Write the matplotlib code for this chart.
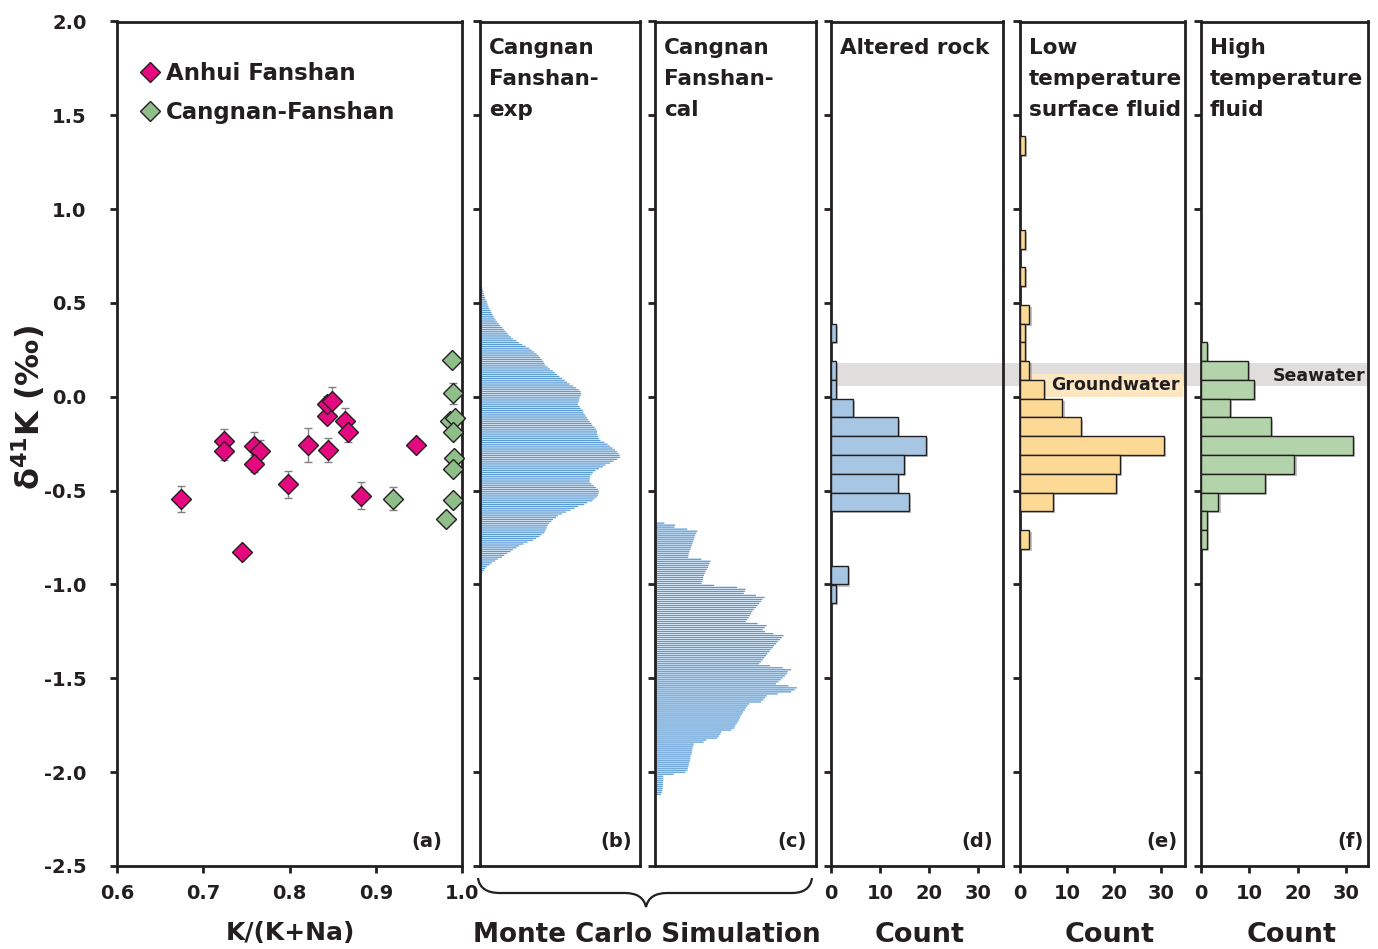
import numpy as np
import matplotlib
matplotlib.use('Agg')
import matplotlib.pyplot as plt
import matplotlib.patheffects as pe
from matplotlib.patches import Rectangle, PathPatch
from matplotlib.path import Path

plt.rcParams['font.family'] = 'DejaVu Sans'
plt.rcParams['font.weight'] = 'bold'
plt.rcParams['axes.unicode_minus'] = False
plt.rcParams['mathtext.default'] = 'bf'

# ---- (a) K/(K+Na) vs d41K ----
anhui_x = [0.674, 0.724, 0.724, 0.759, 0.766, 0.759, 0.745, 0.798, 0.822,
           0.845, 0.843, 0.844, 0.849, 0.864, 0.868, 0.883, 0.947]
anhui_y = [-0.544, -0.235, -0.286, -0.260, -0.288, -0.357, -0.826, -0.467, -0.257,
           -0.281, -0.101, -0.037, -0.020, -0.130, -0.190, -0.526, -0.256]
anhui_err = [0.069, 0.064, 0.05, 0.07, 0.06, 0.046, 0.0, 0.073, 0.09,
             0.064, 0.03, 0.04, 0.071, 0.068, 0.053, 0.072, 0.0]

cangnan_x = [0.920, 0.988, 0.990, 0.986, 0.992, 0.990, 0.991, 0.990, 0.990, 0.981]
cangnan_y = [-0.542, 0.197, 0.018, -0.130, -0.114, -0.185, -0.324, -0.382, -0.549, -0.649]
cangnan_err = [0.059, 0.03, 0.055, 0.03, 0.03, 0.03, 0.03, 0.03, 0.03, 0.0]

# ---- (b) Monte Carlo, Cangnan Fanshan-exp (0.01 bins, top -> bottom) ----
b_top, b_bottom = 0.63, -0.965
b_freq = [0.5, 0.7, 1.0, 1.3, 1.7, 2.3, 2.7, 3.3, 3.8, 4.3,
          5.0, 5.5, 6.7, 7.2, 7.7, 8.5, 9.2, 10.5, 11.2, 12.3,
          13.2, 14.3, 15.5, 17.0, 18.5, 20.0, 22.0, 23.5, 25.0, 27.0,
          28.5, 30.5, 32.5, 36.0, 38.5, 41.7, 45.0, 48.5, 51.0, 53.5,
          56.0, 58.0, 59.3, 61.0, 62.5, 63.5, 64.5, 67.0, 69.0, 72.0,
          74.0, 76.0, 78.5, 81.0, 83.5, 86.0, 88.5, 92.0, 95.0, 97.5,
          99.3, 100.0, 99.5, 98.5, 98.0, 97.7, 97.0, 96.7, 98.5, 99.5,
          101.5, 102.0, 103.3, 104.5, 105.7, 107.0, 108.3, 110.0, 111.0, 113.0,
          114.5, 115.7, 115.5, 116.0, 116.7, 117.5, 119.0, 123.0, 126.0, 128.3,
          131.0, 133.3, 135.5, 137.0, 138.0, 138.3, 135.5, 132.0, 128.5, 124.0,
          121.5, 117.5, 114.0, 111.5, 110.0, 108.7, 108.5, 108.3, 108.3, 110.0,
          112.5, 114.5, 116.7, 117.3, 117.3, 116.5, 115.5, 113.0, 111.0, 106.0,
          103.0, 97.0, 93.5, 89.5, 85.0, 81.0, 77.0, 75.0, 72.0, 70.5,
          68.3, 67.0, 66.0, 65.5, 64.5, 63.5, 61.0, 58.5, 55.5, 52.5,
          47.0, 43.0, 38.5, 36.0, 32.5, 30.0, 27.0, 24.0, 21.7, 17.5,
          15.0, 11.5, 9.5, 6.7, 5.0, 3.8, 2.5, 1.5, 0.8, 0.3]

# ---- (c) Monte Carlo, Cangnan Fanshan-cal ----
c_top, c_bottom = -0.673, -2.118
c_freq = [9.3, 20, 19.3, 32, 42, 41, 40, 39.3, 38.7, 38, 37.3, 36.7, 36, 35.3,
          34.3, 33.7, 33.3, 33,
          46, 55.3, 54.3, 53.3, 52.7, 51.7, 50.3, 49.7, 48.7, 48, 47.7, 47, 46.3,
          58.7, 81.7, 90, 89.3, 88.3, 100.3, 109, 106.7, 105.3, 103.7,
          102, 100.3, 98.3, 96.7, 95.3, 94.3, 93, 91.7, 90.3, 102,
          111, 109.3, 107, 109.3, 117.7, 127.7, 126, 124.3, 122, 120.3,
          118.3, 117, 115, 113.7, 111.7, 110.3, 108.7, 107, 105.3, 103.7,
          114.3, 127, 135.3, 132, 131, 129.3, 127, 125, 122.7, 120.3,
          132.7, 141, 138.7, 135.3, 122, 111, 109.3, 107.7, 105.3, 93.7,
          92, 90.3, 89.3, 87.7, 86.7, 85.3, 84.3, 83.3, 82.3, 81,
          79.7, 78.7, 76, 66, 65, 63.7, 62, 51, 48.3, 38.7,
          38, 37.3, 37, 36.7, 36.3, 35.3, 35, 34.7, 34.3, 33.7,
          33.3, 32.7, 32.3, 30.3, 18.7, 8.3, 8.3, 8.3, 8, 8,
          7.7, 7.7, 7.3, 6.7, 6]

# ---- (d)-(f) histograms, 0.1 bins ----
d_bins = [0.34, 0.14, 0.04, -0.06, -0.16, -0.26, -0.36, -0.46, -0.56, -0.95, -1.05]
d_count = [1, 1, 1, 4.5, 13.6, 19.3, 14.8, 13.6, 15.9, 3.4, 1]

e_bins = [1.34, 0.84, 0.64, 0.44, 0.34, 0.24, 0.14, 0.04, -0.06, -0.16,
          -0.26, -0.36, -0.46, -0.56, -0.76]
e_count = [1, 1, 1, 2, 1, 1, 2, 5, 9, 13, 30.5, 21.3, 20.4, 7, 2]

f_bins = [0.24, 0.14, 0.04, -0.06, -0.16, -0.26, -0.36, -0.46, -0.56, -0.66, -0.76]
f_count = [1.3, 9.7, 10.9, 6, 14.4, 31.3, 19.3, 13.3, 3.6, 1.3, 1.3]

seawater = (0.06, 0.18)
groundwater = (0.0, 0.12)

INK = '#231f20'
W, H = 1378, 949
fig = plt.figure(figsize=(W / 100, H / 100), dpi=100)


def px_axes(x0, x1, y0=21.5, y1=866):
    return fig.add_axes([x0 / W, 1 - y1 / H, (x1 - x0) / W, (y1 - y0) / H])


def style(ax, ylabels=False):
    ax.set_ylim(-2.5, 2.0)
    ax.set_yticks(np.arange(-2.5, 2.01, 0.5))
    for s in ax.spines.values():
        s.set_linewidth(2.0)
        s.set_color(INK)
    ax.tick_params(direction='out', length=5, width=2, color=INK,
                   labelsize=14, labelcolor=INK)
    ax.tick_params(axis='y', pad=17, labelleft=ylabels)
    ax.tick_params(axis='x', pad=8)


def corner(ax, txt, dx):
    ax.annotate(txt, xy=(1, 0), xycoords='axes fraction', xytext=(-dx, 15),
                textcoords='offset pixels', ha='right', va='bottom',
                fontsize=14, color=INK, zorder=6)


def title(ax, txt):
    ax.annotate(txt, xy=(0, 1), xycoords='axes fraction', xytext=(9, -16),
                textcoords='offset pixels', ha='left', va='top',
                fontsize=15.5, color=INK, linespacing=1.7, zorder=6)


ax_a = px_axes(117, 462)
ax_b = px_axes(480, 640)
ax_c = px_axes(655, 816)
ax_d = px_axes(831, 1003)
ax_e = px_axes(1020, 1185)
ax_f = px_axes(1201, 1368)

# (a)
style(ax_a, ylabels=True)
ax_a.set_xlim(0.6, 1.0)
ax_a.set_xticks([0.6, 0.7, 0.8, 0.9, 1.0])
ax_a.set_xticklabels(['0.6', '0.7', '0.8', '0.9', '1.0'])
ax_a.set_yticklabels([f'{v:.1f}' for v in np.arange(-2.5, 2.01, 0.5)])
ax_a.errorbar(anhui_x, anhui_y, yerr=anhui_err, fmt='none', ecolor='#808080',
              elinewidth=1, capsize=3, capthick=1, zorder=2)
ax_a.errorbar(cangnan_x, cangnan_y, yerr=cangnan_err, fmt='none', ecolor='#808080',
              elinewidth=1, capsize=3, capthick=1, zorder=2)
ax_a.plot(anhui_x, anhui_y, 'D', ms=9.7, mfc='#e5097f', mec=INK, mew=1,
          label='Anhui Fanshan', zorder=3, clip_on=False)
ax_a.plot(cangnan_x, cangnan_y, 'D', ms=9.7, mfc='#8fbf88', mec=INK, mew=1,
          label='Cangnan-Fanshan', zorder=3, clip_on=False)
ax_a.legend(loc='upper left', bbox_to_anchor=(0.04, 0.963), frameon=False,
            fontsize=16.5, handletextpad=0.25, labelspacing=0.72,
            borderaxespad=0, handlelength=0.9, labelcolor=INK)
corner(ax_a, '(a)', 20)

# (b), (c) Monte Carlo
for ax, top, bot, freq, xmax, lab, dx, ttl in [
        (ax_b, b_top, b_bottom, b_freq, 158, '(b)', 8, 'Cangnan\nFanshan-\nexp'),
        (ax_c, c_top, c_bottom, c_freq, 160, '(c)', 9, 'Cangnan\nFanshan-\ncal')]:
    style(ax)
    ys = np.linspace(top, bot, len(freq))
    step = abs(ys[1] - ys[0])
    bars = ax.barh(ys, freq, height=step * 0.65, color='#5b9bd5', linewidth=0, zorder=2)
    for r in bars:
        r.set_snap(False)
    ax.set_xlim(0, xmax)
    ax.set_xticks([])
    title(ax, ttl)
    corner(ax, lab, dx)

# (d)-(f) histograms
shadow = [pe.SimplePatchShadow(offset=(1.5, -1.5), shadow_rgbFace='#9a9a9a', alpha=0.6),
          pe.Normal()]
for ax, bins, cnt, col, xmax, lab, dx, ttl in [
        (ax_d, d_bins, d_count, '#a7c6e4', 35, '(d)', 10, 'Altered rock'),
        (ax_e, e_bins, e_count, '#fcd994', 35, '(e)', 7, 'Low\ntemperature\nsurface fluid'),
        (ax_f, f_bins, f_count, '#b3d3aa', 34.5, '(f)', 4, 'High\ntemperature\nfluid')]:
    style(ax)
    ax.set_facecolor('none')
    bars = ax.barh(bins, cnt, height=0.1, color=col, edgecolor=INK, linewidth=1, zorder=3)
    for r in bars:
        r.set_path_effects(shadow)
    ax.set_xlim(0, xmax)
    ax.set_xticks([0, 10, 20, 30])
    title(ax, ttl)
    corner(ax, lab, dx)

# seawater band across d-f
inv = fig.transFigure.inverted()
x0 = inv.transform(ax_d.transAxes.transform((0, 0)))[0]
x1 = inv.transform(ax_f.transAxes.transform((1, 0)))[0]
yb = inv.transform(ax_d.transData.transform((0, seawater[0])))[1]
yt = inv.transform(ax_d.transData.transform((0, seawater[1])))[1]
fig.patches.append(Rectangle((x0, yb), x1 - x0, yt - yb, transform=fig.transFigure,
                             facecolor='#dfdedd', edgecolor='none', zorder=-1))
ax_f.text(14.8, 0.113, 'Seawater', fontsize=12.5, color=INK, va='center', zorder=6)

ax_e.add_patch(Rectangle((2, groundwater[0]), 32.5, groundwater[1] - groundwater[0],
                         facecolor='#fde7c3', edgecolor='none', zorder=1))
ax_e.text(6.7, 0.062, 'Groundwater', fontsize=12.5, color=INK, va='center', zorder=6)

# brace under (b)-(c)
def fx(x):
    return x / W


def fy(y):
    return 1 - y / H


verts = [(478, 878), (480, 893), (500, 893), (625, 893), (643, 893), (646, 907),
         (649, 893), (667, 893), (792, 893), (810, 893), (812, 878)]
codes = [Path.MOVETO, Path.CURVE3, Path.CURVE3, Path.LINETO, Path.CURVE3, Path.CURVE3,
         Path.CURVE3, Path.CURVE3, Path.LINETO, Path.CURVE3, Path.CURVE3]
brace = Path([(fx(x), fy(y)) for x, y in verts], codes)
fig.patches.append(PathPatch(brace, transform=fig.transFigure, facecolor='none',
                             edgecolor=INK, linewidth=1.6))

# axis labels
fig.text(290 / W, fy(933), 'K/(K+Na)', ha='center', va='center', fontsize=18, color=INK)
fig.text(647 / W, fy(935), 'Monte Carlo Simulation', ha='center', va='center',
         fontsize=18.9, color=INK)
for xc in (920, 1110, 1292):
    fig.text(xc / W, fy(935), 'Count', ha='center', va='center', fontsize=19.5, color=INK)
fig.text(28 / W, fy(408), r'δ$^{41}$K (‰)', rotation=90, ha='center', va='center',
         fontsize=23, color=INK)

fig.savefig('out.png', dpi=100)
